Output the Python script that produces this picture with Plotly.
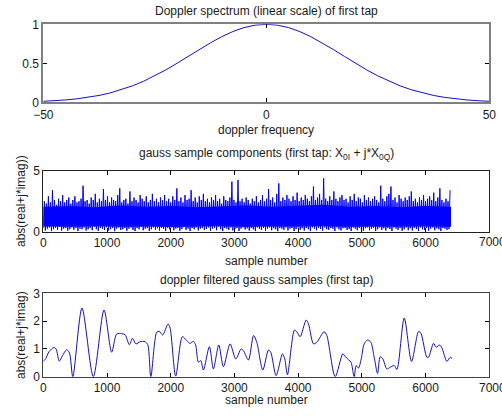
import plotly.graph_objects as go

W, H = 502, 416

# ---------------- data ----------------
# Top: Doppler spectrum (linear scale)
dop_freq = [-50, -47.5, -45, -42.5, -40, -37.5, -35, -32.5, -30, -27.5, -25, -22.5, -20, -17.5,
            -15, -12.5, -10, -7.5, -5, -2.5, 0, 2.5, 5, 7.5, 10, 12.5, 15, 17.5, 20, 22.5, 25,
            27.5, 30, 32.5, 35, 37.5, 40, 42.5, 45, 47.5, 50]
dop_spec = [0.013, 0.020, 0.030, 0.044, 0.063, 0.088, 0.120, 0.161, 0.211, 0.270, 0.339, 0.416,
            0.501, 0.589, 0.678, 0.763, 0.841, 0.907, 0.958, 0.989, 1.0, 0.989, 0.958, 0.907,
            0.841, 0.763, 0.678, 0.589, 0.501, 0.416, 0.339, 0.270, 0.211, 0.161, 0.120, 0.088,
            0.063, 0.044, 0.030, 0.020, 0.013]

# Middle: gauss sample magnitudes, read as per-bin (32 samples) maxima / minima
bin_size = 32
gauss_hi = [
    2.5, 2.3, 2.9, 2.4, 3.4, 2.6, 2.2, 2.7, 2.5, 3.0, 2.4, 2.6, 2.8, 2.3, 2.6, 2.9, 2.4, 2.5, 2.7, 3.77,
    2.5, 2.6, 2.3, 2.8, 2.6, 3.1, 2.4, 2.7, 2.5, 3.5, 2.6, 2.9, 2.4, 2.8, 2.6, 2.5, 3.0, 3.55, 2.4, 2.6,
    2.7, 2.3, 3.3, 2.5, 2.8, 2.6, 2.4, 3.0, 2.7, 2.5, 2.9, 2.4, 2.6, 3.1, 2.5, 2.7, 2.4, 2.8, 2.6, 3.0,
    2.5, 2.7, 2.4, 2.9, 2.6, 3.55, 2.5, 2.8, 2.4, 3.0, 2.6, 2.7, 3.4, 2.5, 2.8, 2.4, 2.9, 2.6, 3.1, 2.5,
    2.7, 2.4, 2.8, 2.6, 3.0, 2.5, 2.7, 2.3, 2.9, 2.6, 2.5, 2.8, 4.1, 2.6, 2.4, 4.23, 2.5, 2.7, 2.4, 2.8,
    2.6, 2.3, 2.7, 2.5, 2.9, 2.4, 2.6, 3.0, 2.5, 2.7, 3.5, 2.6, 2.8, 2.4, 3.1, 3.96, 2.5, 2.8, 2.6, 3.0,
    2.7, 2.5, 2.9, 2.6, 3.2, 2.5, 2.8, 2.6, 3.0, 2.7, 2.5, 2.9, 3.7, 2.6, 2.8, 3.1, 2.6, 4.37, 2.7, 2.5,
    2.9, 2.6, 3.3, 2.7, 2.5, 2.8, 3.0, 2.6, 2.7, 2.4, 2.9, 2.6, 3.1, 2.5, 2.8, 2.7, 2.4, 3.0, 2.6, 2.8,
    2.5, 2.7, 2.9, 2.6, 2.4, 3.77, 2.7, 2.5, 2.9, 3.1, 3.7, 2.6, 2.8, 2.4, 3.0, 2.7, 2.5, 2.8, 2.6, 2.9,
    3.3, 2.5, 2.7, 2.4, 2.8, 2.6, 3.0, 2.5, 2.7, 2.9, 2.6, 3.2, 2.5, 2.8, 3.55, 2.6, 2.4, 2.7, 2.5, 3.4,
]
gauss_lo = [
    0.30, 0.10, 0.25, 0.35, 0.05, 0.20, 0.30, 0.15, 0.40, 0.10, 0.25, 0.30, 0.08, 0.20, 0.35, 0.15, 0.30, 0.05, 0.25, 0.20,
    0.35, 0.10, 0.20, 0.30, 0.12, 0.40, 0.20, 0.06, 0.30, 0.25, 0.15, 0.35, 0.10, 0.20, 0.30, 0.04, 0.25, 0.35, 0.15, 0.20,
    0.30, 0.08, 0.25, 0.35, 0.15, 0.05, 0.30, 0.20, 0.40, 0.12, 0.25, 0.30, 0.06, 0.20, 0.35, 0.15, 0.28, 0.10, 0.30, 0.22,
    0.05, 0.30, 0.20, 0.35, 0.12, 0.25, 0.30, 0.08, 0.22, 0.38, 0.15, 0.25, 0.05, 0.30, 0.20, 0.35, 0.10, 0.25, 0.30, 0.15,
    0.22, 0.35, 0.08, 0.25, 0.30, 0.12, 0.40, 0.20, 0.05, 0.30, 0.25, 0.15, 0.35, 0.10, 0.22, 0.30, 0.06, 0.25, 0.35, 0.18,
    0.28, 0.10, 0.30, 0.20, 0.05, 0.35, 0.22, 0.15, 0.30, 0.08, 0.25, 0.35, 0.12, 0.28, 0.20, 0.04, 0.30, 0.25, 0.15, 0.35,
    0.10, 0.25, 0.30, 0.06, 0.22, 0.35, 0.15, 0.28, 0.10, 0.30, 0.20, 0.05, 0.35, 0.25, 0.12, 0.30, 0.22, 0.08, 0.35, 0.20,
    0.15, 0.30, 0.25, 0.05, 0.35, 0.20, 0.10, 0.28, 0.30, 0.15, 0.22, 0.06, 0.35, 0.25, 0.12, 0.30, 0.20, 0.08, 0.28, 0.35,
    0.12, 0.25, 0.30, 0.05, 0.20, 0.35, 0.15, 0.28, 0.10, 0.30, 0.22, 0.06, 0.35, 0.25, 0.15, 0.30, 0.08, 0.20, 0.35, 0.12,
    0.28, 0.10, 0.30, 0.22, 0.05, 0.35, 0.20, 0.15, 0.30, 0.08, 0.25, 0.35, 0.12, 0.28, 0.20, 0.05, 0.30, 0.25, 0.15, 0.22,
]
# solid core of the noise band (edges read every 400 samples)
band_x = [0, 400, 800, 1200, 1600, 2000, 2400, 2800, 3200, 3600, 4000, 4400, 4800, 5200, 5600, 6000, 6400]
band_top = [2.05, 2.1, 2.0, 2.15, 2.05, 2.1, 2.0, 2.1, 2.15, 2.05, 2.1, 2.2, 2.05, 2.1, 2.0, 2.1, 2.05]
band_bot = [0.42, 0.4, 0.45, 0.4, 0.42, 0.38, 0.42, 0.45, 0.4, 0.42, 0.4, 0.45, 0.4, 0.42, 0.4, 0.42, 0.4]

# Bottom: doppler filtered gauss samples
filt_x = [0, 40, 90, 165, 200, 251, 300, 366, 410, 463, 607, 785, 953, 1073, 1152, 1230, 1283,
          1351, 1398, 1455, 1520, 1597, 1640, 1688, 1780, 1820, 1874, 1958, 1990, 2078, 2183,
          2250, 2304, 2356, 2390, 2435, 2471, 2513, 2607, 2670, 2754, 2827, 2932, 3021, 3105,
          3140, 3220, 3300, 3351, 3445, 3534, 3570, 3654, 3754, 3790, 3832, 3942, 3980, 4031,
          4126, 4162, 4241, 4293, 4408, 4450, 4581, 4701, 4738, 4790, 4830, 4879, 4911, 4947,
          4990, 5036, 5089, 5141, 5193, 5246, 5288, 5330, 5392, 5445, 5507, 5550, 5665, 5780,
          5890, 5927, 6020, 6046, 6125, 6167, 6220, 6257, 6335, 6387, 6413]
filt_y = [0.55, 0.66, 0.9, 1.05, 1.0, 0.56, 0.75, 0.97, 0.86, 0.0, 2.47, 0.0, 2.4, 0.88, 1.54,
          1.55, 1.51, 1.15, 1.38, 1.18, 1.26, 1.26, 1.15, 0.0, 1.6, 1.63, 1.5, 1.9, 1.75, 0.02,
          1.44, 1.3, 1.2, 1.27, 1.15, 0.52, 0.58, 0.24, 1.08, 0.28, 1.14, 0.36, 1.18, 0.64, 1.0,
          0.94, 0.6, 1.48, 1.24, 0.24, 0.96, 0.88, 0.04, 0.82, 0.64, 0.07, 1.68, 1.61, 1.44,
          2.04, 1.9, 1.18, 1.24, 1.62, 1.48, 0.0, 0.82, 0.73, 0.61, 0.52, 0.0, 0.4, 0.31, 0.64,
          1.18, 1.32, 1.24, 0.7, 0.12, 0.72, 0.64, 0.28, 0.34, 0.4, 0.26, 2.11, 0.55, 1.63,
          1.56, 0.7, 0.7, 1.2, 1.06, 1.14, 1.03, 0.55, 0.7, 0.66]

x_ticks_top = [-50, 0, 50]
y_ticks_top = [0, 0.5, 1]
y_ticklabels_top = ["0", "0.5", "1"]
x_ticks_samp = [0, 1000, 2000, 3000, 4000, 5000, 6000, 7000]
x_ticklabels_samp = ["0", "1000", "2000", "3000", "4000", "5000", "6000", ""]  # last drawn as clipped text
x_last_label = "7000"
y_ticks_mid = [0, 5]
y_ticks_bot = [0, 1, 2, 3]

# ---------------- build middle zig-zag from bins ----------------
mid_x, mid_y = [], []
for i, (lo, hi) in enumerate(zip(gauss_lo, gauss_hi)):
    mid_x += [i * bin_size, i * bin_size + bin_size / 2]
    mid_y += [lo, hi]

# ---------------- figure ----------------
FONT = "Liberation Sans, Arial, sans-serif"
TXT = "#1a1a1a"
LINE_BLUE = "#1010c8"
PURE_BLUE = "#0000ff"

fig = go.Figure()
fig.add_trace(go.Scatter(x=dop_freq, y=dop_spec, mode="lines",
                         line=dict(color=LINE_BLUE, width=1), xaxis="x", yaxis="y"))
fig.add_trace(go.Scatter(x=band_x, y=band_bot, mode="lines", line=dict(width=0, color=PURE_BLUE),
                         xaxis="x2", yaxis="y2"))
fig.add_trace(go.Scatter(x=band_x, y=band_top, mode="lines", line=dict(width=0, color=PURE_BLUE),
                         fill="tonexty", fillcolor=PURE_BLUE, xaxis="x2", yaxis="y2"))
fig.add_trace(go.Scatter(x=mid_x, y=mid_y, mode="lines",
                         line=dict(color=PURE_BLUE, width=1, simplify=False),
                         xaxis="x2", yaxis="y2"))
fig.add_trace(go.Scatter(x=filt_x, y=filt_y, mode="lines",
                         line=dict(color=LINE_BLUE, width=1, shape="spline", smoothing=0.8),
                         xaxis="x3", yaxis="y3"))

def px_x(p):
    return p / W

def px_y(p):
    return 1 - p / H

xdom = [px_x(43.3), px_x(489.3)]
dom_top = [px_y(102.3), px_y(24.3)]
dom_mid = [px_y(231.7), px_y(170.7)]
dom_bot = [px_y(376.7), px_y(293.3)]

def axis_style(lc, lw):
    return dict(showline=True, linecolor=lc, linewidth=lw, mirror="ticks",
                ticks="inside", ticklen=4, tickwidth=1, tickcolor="#000000",
                showgrid=False, zeroline=False, automargin=False,
                tickfont=dict(family=FONT, size=12, color=TXT))

fig.update_layout(
    width=W, height=H, margin=dict(l=0, r=0, t=0, b=0, autoexpand=False),
    paper_bgcolor="white", plot_bgcolor="white", showlegend=False,
    xaxis=dict(domain=xdom, range=[-50, 50], anchor="y", tickvals=x_ticks_top,
               **axis_style("#808080", 2)),
    yaxis=dict(domain=dom_top, range=[0, 1], anchor="x", tickvals=y_ticks_top,
               ticktext=y_ticklabels_top, **axis_style("#808080", 2)),
    xaxis2=dict(domain=xdom, range=[0, 7000], anchor="y2", tickvals=x_ticks_samp,
                ticktext=x_ticklabels_samp, **axis_style("#202020", 1)),
    yaxis2=dict(domain=dom_mid, range=[0, 5], anchor="x2", tickvals=y_ticks_mid,
                **axis_style("#202020", 1)),
    xaxis3=dict(domain=xdom, range=[0, 7000], anchor="y3", tickvals=x_ticks_samp,
                ticktext=x_ticklabels_samp, **axis_style("#404040", 1)),
    yaxis3=dict(domain=dom_bot, range=[0, 3], anchor="x3", tickvals=y_ticks_bot,
                **axis_style("#404040", 1)),
)

def ann(text, x, y, angle=0, xanchor="center"):
    fig.add_annotation(text=text, x=px_x(x), y=px_y(y), xref="paper", yref="paper",
                       showarrow=False, xanchor=xanchor, yanchor="middle", textangle=angle,
                       font=dict(family=FONT, size=12, color=TXT))

ann("Doppler spectrum (linear scale) of first tap", 266, 11)
ann("doppler frequency", 266, 130)
ann("gauss sample components (first tap: X<sub>0I</sub> + j*X<sub>0Q</sub>)", 266, 154)
ann("sample number", 266, 261)
ann("abs(real+j*imag))", 21, 201, -90)
ann("doppler filtered gauss samples (first tap)", 266, 280)
ann("sample number", 266, 400)
ann("abs(real+j*imag)", 21, 335, -90)
# last x tick label of the sample axes, partly cut by the window edge as in the original
ann(x_last_label, 476.5, 242, xanchor="left")
ann(x_last_label, 476.5, 388, xanchor="left")

fig.write_html("out.html")
